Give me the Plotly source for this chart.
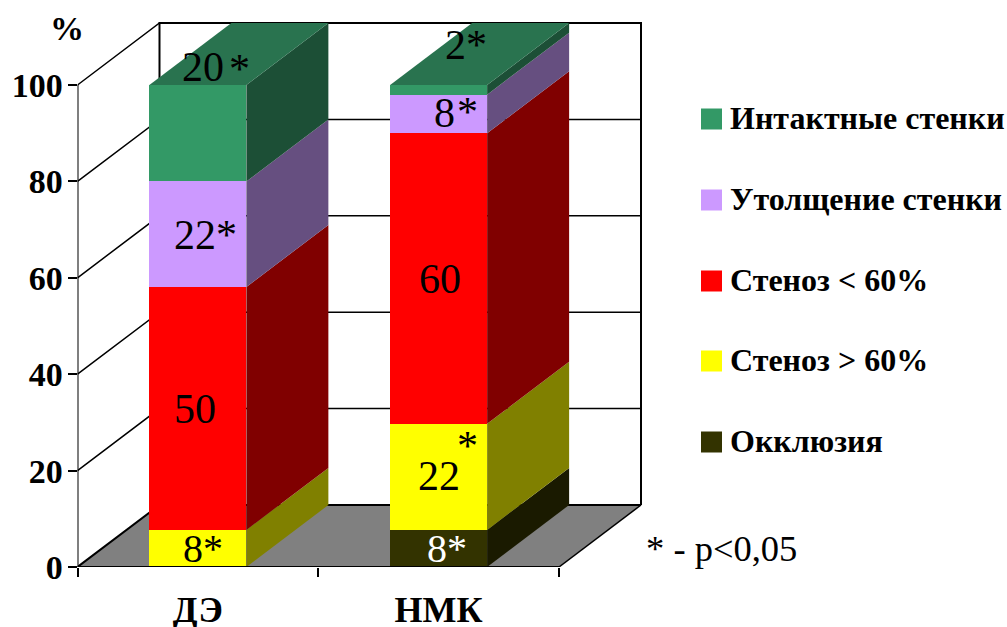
import plotly.graph_objects as go

categories = ["ДЭ", "НМК"]
series_names = ["Окклюзия", "Стеноз > 60%", "Стеноз < 60%", "Утолщение стенки", "Интактные стенки"]
occlusion = [0, 7.7]
stenosis_over = [7.7, 22]
stenosis_under = [50.4, 60.3]
thickening = [21.9, 8]
intact = [20, 2]
series_values = [occlusion, stenosis_over, stenosis_under, thickening, intact]
y_ticks = [0, 20, 40, 60, 80, 100]

front_colors = ["#333300", "#ffff00", "#ff0000", "#cc99ff", "#339966"]
side_colors = ["#1a1a00", "#808000", "#800000", "#664f80", "#1c4f36"]
top_color = "#29734f"
floor_color = "#808080"

W, H = 1007, 627
X0, X1, Y0, Y100 = 77.5, 559.0, 567.0, 85.0
UX = (X1 - X0) / 2
UY = (Y0 - Y100) / 100
def dx_px(p): return (p - X0) / UX
def dy_px(p): return (Y0 - p) / UY
DX = 82 / UX
DY = 62 / UY
BAR_W = 97 / UX
centers = [0.5, 1.5]
x_max = dx_px(W)
y_max = dy_px(0)

fig = go.Figure()
FONT = "Liberation Serif"

def line(xs, ys, width, **kw):
    fig.add_trace(go.Scatter(x=xs, y=ys, mode="lines", line=dict(color="black", width=width),
                             hoverinfo="skip", showlegend=False, **kw))

# floor, walls and gridlines on the main subplot (beneath the bars)
fig.add_trace(go.Scatter(x=[0, 2, 2 + DX, DX, 0], y=[0, 0, DY, DY, 0], fill="toself", fillcolor=floor_color,
                         mode="none", hoverinfo="skip", showlegend=False))
for v in y_ticks[1:]:
    line([0, DX, 2 + DX], [v, v + DY, v + DY], 1.5)
line([0, DX, 2 + DX], [0, DY, DY], 2)
line([2, 2 + DX], [0, DY], 1.5)
line([DX, DX, 2 + DX, 2 + DX], [DY, 100 + DY, 100 + DY, DY], 2)

# front faces
for name, vals, col in zip(series_names, series_values, front_colors):
    fig.add_trace(go.Bar(x=centers, y=vals, name=name, width=BAR_W, marker=dict(color=col, line=dict(width=0)),
                         xaxis="x2", yaxis="y", showlegend=False))

# side and top faces derived from the stacked values
for i, c in enumerate(centers):
    r = c + BAR_W / 2
    l = c - BAR_W / 2
    base = 0
    for vals, col in zip(series_values, side_colors):
        v = vals[i]
        if v > 0:
            fig.add_trace(go.Scatter(x=[r, r + DX, r + DX, r, r],
                                     y=[base, base + DY, base + v + DY, base + v, base],
                                     fill="toself", fillcolor=col, mode="none", xaxis="x2", yaxis="y",
                                     hoverinfo="skip", showlegend=False))
        base += v
    fig.add_trace(go.Scatter(x=[l, r, r + DX, l + DX, l], y=[base, base, base + DY, base + DY, base],
                             fill="toself", fillcolor=top_color, mode="none", xaxis="x2", yaxis="y",
                             hoverinfo="skip", showlegend=False))

# front axis lines, which stop at the ends of the scale
line([0, 0], [0, 100], 2, xaxis="x2", yaxis="y")
line([0, 2], [0, 0], 2, xaxis="x2", yaxis="y")

# legend swatches
legend_y_px = [442, 361, 281, 200, 119]
fig.add_trace(go.Scatter(x=[dx_px(711.5)] * 5, y=[dy_px(p) for p in legend_y_px], mode="markers",
                         marker=dict(symbol="square", size=21, color=front_colors, line=dict(width=0)),
                         xaxis="x2", yaxis="y", hoverinfo="skip", showlegend=False))

annotations = []
def note(text, px, py, size, color="black", bold=False, anchor="center"):
    annotations.append(dict(text=f"<b>{text}</b>" if bold else text, xref="paper", yref="paper",
                            x=px / W, y=1 - py / H, xanchor=anchor, yanchor="middle", showarrow=False,
                            font=dict(family=FONT, size=size, color=color)))

for name, py in zip(series_names, legend_y_px):
    note(name, 728, py - 1, 32, bold=True, anchor="left")

note("20", 203, 67, 42)
note("*", 239, 69, 42)
note("22*", 205, 235, 42)
note("50", 195, 409, 42)
note("8*", 203, 548, 40)
note("2*", 466, 45, 42)
note("8", 444, 113, 42)
note("*", 467, 112, 42)
note("60", 440, 279, 42)
note("22", 439, 476, 42)
note("*", 467, 446, 42)
note("8*", 447, 548, 40, color="white")
note("%", 67, 29, 34, bold=True)
note("* - p&lt;0,05", 721, 548, 36.5)

fig.update_layout(
    template="none", width=W, height=H, margin=dict(l=0, r=0, t=0, b=0), paper_bgcolor="white", plot_bgcolor="white",
    barmode="stack", showlegend=False, annotations=annotations,
    xaxis=dict(domain=[X0 / W, 1], range=[0, x_max], tickvals=[0, 1, 2], ticktext=["", "", ""],
               ticks="outside", ticklen=9, tickwidth=2, tickcolor="black", showline=False,
               showgrid=False, zeroline=False),
    xaxis2=dict(domain=[X0 / W, 1], range=[0, x_max], overlaying="x", anchor="y", side="bottom",
                tickvals=centers, ticktext=categories, ticks="", showline=False, showgrid=False, zeroline=False,
                ticklabelstandoff=18, tickfont=dict(family=FONT, size=36, color="black", weight="bold")),
    yaxis=dict(domain=[(H - Y0) / H, 1], range=[0, y_max], tickvals=y_ticks,
               ticks="outside", ticklen=9, tickwidth=2, tickcolor="black", showline=False,
               showgrid=False, zeroline=False, ticklabelstandoff=-2,
               tickfont=dict(family=FONT, size=34, color="black", weight="bold")),
)
fig.write_html("out.html", config=dict(displayModeBar=False),
               post_script="document.body.style.margin='0';document.body.style.overflow='hidden';")
